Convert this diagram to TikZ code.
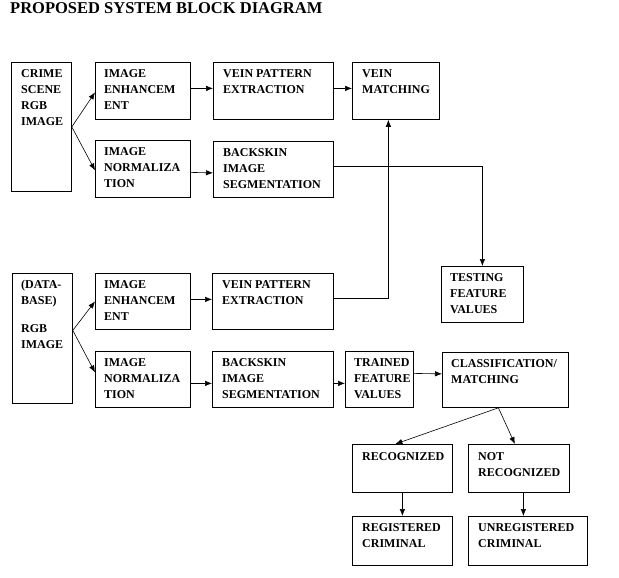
\documentclass[tikz,border=0pt]{standalone}
\usepackage{fontspec}
\setmainfont{Liberation Serif}
\usetikzlibrary{arrows.meta}

\begin{document}
\begin{tikzpicture}[x=1pt, y=-1pt,
    blk/.style={draw, line width=0.8pt, anchor=north west, inner sep=0pt},
    txt/.style={anchor=north west, inner sep=0pt, align=left,
        font=\fontsize{12}{16}\selectfont\bfseries},
    ttl/.style={anchor=base west, inner sep=0pt,
        font=\fontsize{16.5}{18}\selectfont\bfseries},
    arr/.style={line width=0.6pt, -{Latex[length=7pt,width=5.5pt]}},
    ln/.style={line width=0.6pt}]

    % Page size
    \useasboundingbox (0,0) rectangle (619,578);

    % Title
    \node[ttl] (title) at (10,14) {PROPOSED SYSTEM BLOCK DIAGRAM};

    % Crime scene branch
    \node[blk, minimum width=60, minimum height=129] (crime) at (11,62) {};
    \node[txt] (crimet) at ([shift={(10,7)}]crime.north west) {CRIME\\SCENE\\RGB\\IMAGE};
    \node[blk, minimum width=95, minimum height=57] (enha) at (95,62) {};
    \node[txt] (enhat) at ([shift={(9,7)}]enha.north west) {IMAGE\\ENHANCEM\\ENT};
    \node[blk, minimum width=120, minimum height=57] (veina) at (213,62) {};
    \node[txt] (veinat) at ([shift={(10,7)}]veina.north west) {VEIN PATTERN\\EXTRACTION};
    \node[blk, minimum width=87, minimum height=57] (match) at (352,62) {};
    \node[txt] (matcht) at ([shift={(10,7)}]match.north west) {VEIN\\MATCHING};
    \node[blk, minimum width=95, minimum height=57] (norma) at (95,140) {};
    \node[txt] (normat) at ([shift={(9,7)}]norma.north west) {IMAGE\\NORMALIZA\\TION};
    \node[blk, minimum width=120, minimum height=56] (segma) at (213,141) {};
    \node[txt] (segmat) at ([shift={(10,7)}]segma.north west) {BACKSKIN\\IMAGE\\SEGMENTATION};
    \node[blk, minimum width=82, minimum height=56] (test) at (441,266) {};
    \node[txt] (testt) at ([shift={(9,7)}]test.north west) {TESTING\\FEATURE\\VALUES};

    % Database branch
    \node[blk, minimum width=60, minimum height=130] (dbase) at (12,273) {};
    \node[txt] (dbaset) at ([shift={(9,7)}]dbase.north west) {(DATA-\\BASE)\\[12pt]RGB\\IMAGE};
    \node[blk, minimum width=95, minimum height=56] (enhb) at (95,273) {};
    \node[txt] (enhbt) at ([shift={(9,7)}]enhb.north west) {IMAGE\\ENHANCEM\\ENT};
    \node[blk, minimum width=121, minimum height=56] (veinb) at (212,273) {};
    \node[txt] (veinbt) at ([shift={(10,7)}]veinb.north west) {VEIN PATTERN\\EXTRACTION};
    \node[blk, minimum width=95, minimum height=56] (normb) at (95,351) {};
    \node[txt] (normbt) at ([shift={(9,7)}]normb.north west) {IMAGE\\NORMALIZA\\TION};
    \node[blk, minimum width=121, minimum height=56] (segmb) at (212,351) {};
    \node[txt] (segmbt) at ([shift={(10,7)}]segmb.north west) {BACKSKIN\\IMAGE\\SEGMENTATION};
    \node[blk, minimum width=68, minimum height=56] (train) at (345,351) {};
    \node[txt] (traint) at ([shift={(9,7)}]train.north west) {TRAINED\\FEATURE\\VALUES};
    \node[blk, minimum width=126, minimum height=55] (classif) at (442,352) {};
    \node[txt] (classift) at ([shift={(9,7)}]classif.north west) {CLASSIFICATION/\\MATCHING};

    % Results
    \node[blk, minimum width=100, minimum height=48] (recog) at (352,444) {};
    \node[txt] (recogt) at ([shift={(10,8)}]recog.north west) {RECOGNIZED};
    \node[blk, minimum width=101, minimum height=48] (notrec) at (468,444) {};
    \node[txt] (notrect) at ([shift={(10,8)}]notrec.north west) {NOT\\RECOGNIZED};
    \node[blk, minimum width=100, minimum height=49] (regcrim) at (352,516) {};
    \node[txt] (regcrimt) at ([shift={(10,7)}]regcrim.north west) {REGISTERED\\CRIMINAL};
    \node[blk, minimum width=119, minimum height=49] (unregcrim) at (468,516) {};
    \node[txt] (unregcrimt) at ([shift={(10,7)}]unregcrim.north west) {UNREGISTERED\\CRIMINAL};

    % Connectors, crime scene branch
    \draw[arr] (crime.east) -- ([yshift=-1.5pt]enha.west);
    \draw[arr] (crime.east) -- ([yshift=-1.5pt]norma.west);
    \draw[arr] ([yshift=2.5pt]enha.east) -- ([yshift=2.5pt]veina.west);
    \draw[arr] ([yshift=2.5pt]veina.east) -- ([yshift=2.5pt]match.west);
    \draw[arr] ([yshift=-3.5pt]norma.east) -- ([yshift=-3.5pt]segma.west);
    \draw[arr] ([yshift=3pt]segma.east) -| (test.north);

    % Connectors, database branch
    \draw[arr] ([yshift=8pt]dbase.east) -- (enhb.west);
    \draw[arr] ([yshift=8pt]dbase.east) -- ([yshift=7pt]normb.west);
    \draw[arr] ([yshift=2pt]enhb.east) -- ([yshift=2pt]veinb.west);
    \draw[arr] ([yshift=3pt]veinb.east) -| ([xshift=-7.5pt]match.south);
    \draw[arr] ([yshift=-4pt]normb.east) -- ([yshift=-4pt]segmb.west);
    \draw[arr] ([yshift=-4pt]segmb.east) -- ([yshift=-4pt]train.west);
    \draw[arr] ([yshift=6pt]train.east) -- ([yshift=6pt]classif.west);

    % Connectors, results
    \draw[arr] ([xshift=-7pt]classif.south) -- ([xshift=-7pt]recog.north);
    \draw[arr] ([xshift=-7pt]classif.south) -- ([xshift=-4pt]notrec.north);
    \draw[arr] (recog.south) -- (regcrim.north);
    \draw[arr] ([xshift=4.5pt]notrec.south) -- ([xshift=4.5pt]notrec.south |- unregcrim.north);

\end{tikzpicture}
\end{document}
